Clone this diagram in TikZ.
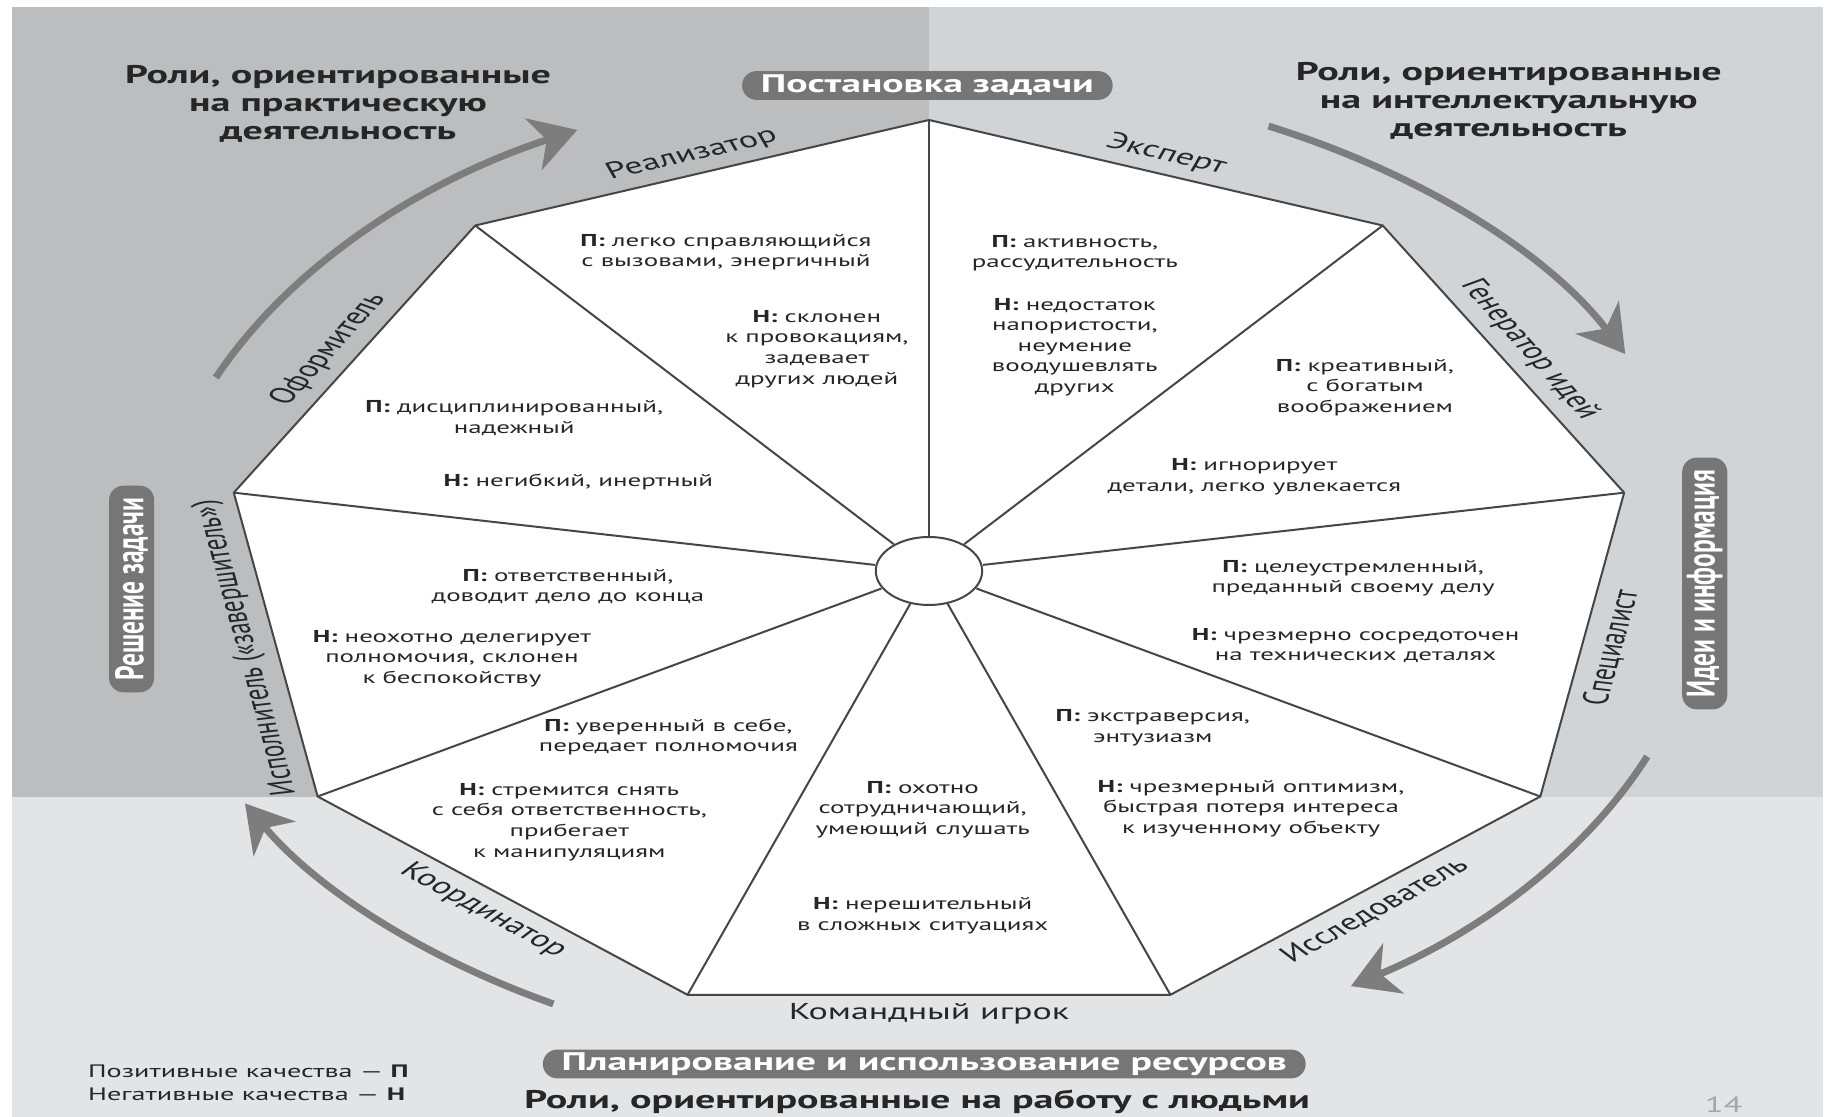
\documentclass[tikz,border=0pt]{standalone}
\usepackage{fontspec}
\setmainfont{PT Sans}
\usetikzlibrary{arrows.meta}
\definecolor{qdark}{RGB}{187,189,191}
\definecolor{qlight}{RGB}{209,212,215}
\definecolor{qpale}{RGB}{226,228,230}
\definecolor{pillgray}{RGB}{118,118,118}
\definecolor{arrowgray}{RGB}{125,125,125}
\definecolor{edgegray}{RGB}{70,70,70}
\definecolor{inkgray}{RGB}{38,38,38}
\newcommand{\pq}{\textbf{П:}~}
\newcommand{\nq}{\textbf{Н:}~}

\begin{document}
\begin{tikzpicture}[x=0.5pt,y=0.5pt,xscale=1.565,transform shape,
  panel/.style={fill=white,draw=edgegray,line width=1pt,line join=round},
  spoke/.style={draw=edgegray,line width=1pt},
  hub/.style={circle,draw=edgegray,fill=white,line width=1pt,minimum size=34pt,inner sep=0pt},
  qual/.style={align=center,text=inkgray,font=\fontsize{8.6}{10.3}\selectfont,inner sep=0pt},
  role/.style={text=inkgray,font=\fontsize{11.5}{13}\selectfont,inner sep=0pt},
  pill/.style={fill=pillgray,text=white,font=\fontsize{12.7}{14}\selectfont\bfseries,
    rounded corners=7.2pt,minimum height=14.4pt,inner xsep=6pt,inner ysep=0pt},
  heading/.style={align=center,text=inkgray,font=\fontsize{12.8}{14}\selectfont\bfseries,inner sep=0pt},
  bigarrow/.style={draw=arrowgray,line width=3.5pt,-{Stealth[length=23pt,width=27pt,inset=7pt]}}]
  \useasboundingbox (-593.6,-546) rectangle (575.1,571);
  % background quarters
  \fill[qdark] (-586,-226) rectangle (0,564);
  \fill[qlight] (0,-226) rectangle (571.5,564);
  \fill[qpale] (-586,-546) rectangle (571.5,-226);
  % round arrows
  \draw[bigarrow] (157:495) arc[start angle=157,end angle=117,radius=495];
  \draw[bigarrow] (64:495) arc[start angle=64,end angle=26,radius=495];
  \draw[bigarrow] (-22:495) arc[start angle=-22,end angle=-57,radius=495];
  \draw[bigarrow] (-119:495) arc[start angle=-119,end angle=-152,radius=495];
  % nonagon
  \foreach \a [count=\i] in {90,50,...,-230}
    \coordinate (v\i) at (\a:451);
  \draw[panel] (v1) \foreach \i in {2,...,9} {-- (v\i)} -- cycle;
  \node[hub] (hub) at (0,0) {};
  \foreach \i in {1,...,9}
    \draw[spoke] (hub) -- (v\i);
  % role names
  \foreach \a/\lab [count=\i] in {110/Реализатор,70/Эксперт,30/Генератор идей,150/Оформитель,-170/Исполнитель («завершитель»)}
    \node[role,rotate=\a-90] (roleT\i) at (\a:443) {\lab};
  \foreach \a/\lab [count=\i] in {-10/Специалист,-50/Исследователь,-90/Командный игрок,-130/Координатор}
    \node[role,rotate=\a+90] (roleB\i) at (\a:443) {\lab};
  % qualities
  \node[qual] (implP) at (-129.7,319) {\pq легко справляющийся\\с вызовами, энергичный};
  \node[qual] (implN) at (-71.6,222) {\nq склонен\\к провокациям,\\задевает\\других людей};
  \node[qual] (monP) at (93.2,317.7) {\pq активность,\\рассудительность};
  \node[qual] (monN) at (93.2,224) {\nq недостаток\\напористости,\\неумение\\воодушевлять\\других};
  \node[qual] (plantP) at (278.6,183.5) {\pq креативный,\\с богатым\\воображением};
  \node[qual] (plantN) at (207.9,94) {\nq игнорирует\\детали, легко увлекается};
  \node[qual] (specP) at (271,-7.3) {\pq целеустремленный,\\преданный своему делу};
  \node[qual] (specN) at (272.6,-74.5) {\nq чрезмерно сосредоточен\\на технических деталях};
  \node[qual] (resP) at (143,-157) {\pq экстраверсия,\\энтузиазм};
  \node[qual] (resN) at (205.8,-237.5) {\nq чрезмерный оптимизм,\\быстрая потеря интереса\\к изученному объекту};
  \node[qual] (teamP) at (-4,-238.5) {\pq охотно\\сотрудничающий,\\умеющий слушать};
  \node[qual] (teamN) at (-4,-344.5) {\nq нерешительный\\в сложных ситуациях};
  \node[qual] (coP) at (-166.5,-166) {\pq уверенный в себе,\\передает полномочия};
  \node[qual] (coN) at (-229.8,-251) {\nq стремится снять\\с себя ответственность,\\прибегает\\к манипуляциям};
  \node[qual] (finP) at (-230.7,-15.4) {\pq ответственный,\\доводит дело до конца};
  \node[qual] (finN) at (-304.8,-87.7) {\nq неохотно делегирует\\полномочия, склонен\\к беспокойству};
  \node[qual] (formP) at (-265,153) {\pq дисциплинированный,\\надежный};
  \node[qual] (formN) at (-224,89) {\nq негибкий, инертный};
  % stages
  \node[pill] (setTask) at (-1,485.5) {Постановка задачи};
  \node[pill,rotate=90] (solveTask) at (-509.5,-18) {Решение задачи};
  \node[pill,rotate=90] (ideas) at (495.7,-12.5) {Идеи и информация};
  \node[pill] (planning) at (-3,-493) {Планирование и использование ресурсов};
  % groups of roles
  \node[heading] (practHead) at (-377.6,467.4) {Роли, ориентированные\\на практическую\\деятельность};
  \node[heading] (intelHead) at (370.5,470.3) {Роли, ориентированные\\на интеллектуальную\\деятельность};
  \node[heading] (peopleHead) at (-7.5,-531) {Роли, ориентированные на работу с людьми};
  % legend
  \node[anchor=west,align=left,text=inkgray,font=\fontsize{9}{11.5}\selectfont,inner sep=0pt]
    (legend) at (-537.7,-511.5) {Позитивные качества — \textbf{П}\\Негативные качества — \textbf{Н}};
  \node[text=black!35,font=\fontsize{11}{13}\selectfont,inner sep=0pt] (pageNo) at (507.7,-534) {14};
\end{tikzpicture}
\end{document}
